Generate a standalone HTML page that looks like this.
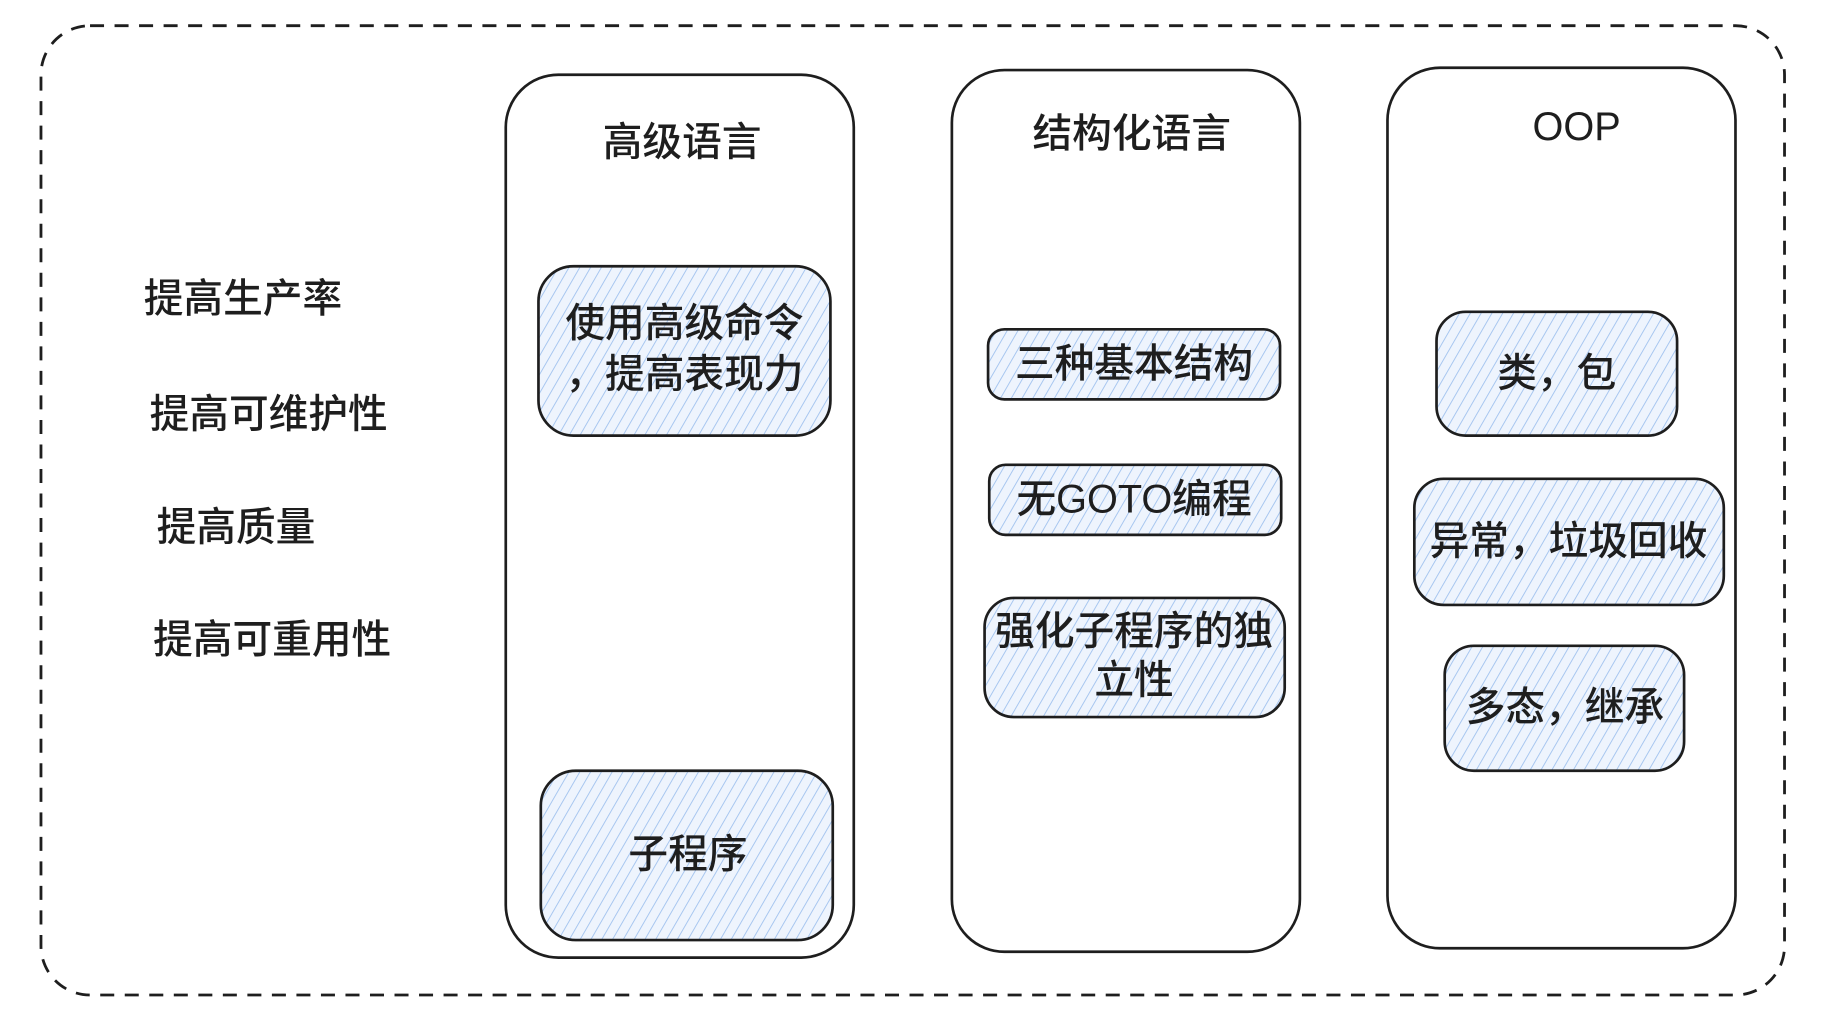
<!DOCTYPE html>
<html><head><meta charset="utf-8"><style>
html,body{margin:0;padding:0;background:#fff;width:1822px;height:1016px;overflow:hidden}
svg text{font-family:"Liberation Sans","Noto Sans CJK SC",sans-serif;fill:#1e1e1e;font-weight:500}
</style></head><body>
<svg width="1822" height="1016" viewBox="0 0 1560 870" xmlns="http://www.w3.org/2000/svg">
<defs>
<pattern id="h" width="8" height="8" patternUnits="userSpaceOnUse" patternTransform="rotate(30)">
<rect width="8" height="8" fill="#eef4fd"/>
<line x1="0" y1="0" x2="0" y2="8" stroke="#9fc1ee" stroke-width="1.5"/>
</pattern>
</defs>
<text x="650" y="-4" font-size="20" text-anchor="middle" style="fill:#c8c8c8">安装语言中，请按准确标准化成型语言进行规范或编辑，或使用新手工具。</text>
<rect x="35" y="22" width="1493" height="830" rx="42" fill="none" stroke="#1e1e1e" stroke-width="2.4" stroke-dasharray="12 9"/>
<g font-size="34">
<text x="123" y="267">提高生产率</text>
<text x="128" y="366">提高可维护性</text>
<text x="134" y="463">提高质量</text>
<text x="131" y="559">提高可重用性</text>
</g>
<g fill="none" stroke="#1e1e1e" stroke-width="2.3">
<rect x="433" y="64" width="298" height="756" rx="45"/>
<rect x="815" y="60" width="298" height="755" rx="45"/>
<rect x="1188" y="58" width="298" height="754" rx="45"/>
</g>
<g fill="url(#h)" stroke="#1e1e1e" stroke-width="2.3">
<rect x="461" y="228" width="250" height="145" rx="30"/>
<rect x="463" y="660" width="250" height="145" rx="30"/>
<rect x="846" y="282" width="250" height="60" rx="14"/>
<rect x="847" y="398" width="250" height="60" rx="14"/>
<rect x="843" y="512" width="257" height="102" rx="25"/>
<rect x="1230" y="267" width="206" height="106" rx="25"/>
<rect x="1211" y="410" width="265" height="108" rx="25"/>
<rect x="1237" y="553" width="205" height="107" rx="25"/>
</g>
<g font-size="34" text-anchor="middle">
<text x="584" y="133">高级语言</text>
<text x="969" y="126">结构化语言</text>
<text x="1350" y="120">OOP</text>
<text x="586" y="288">使用高级命令</text>
<text x="586" y="332">，提高表现力</text>
<text x="589" y="743">子程序</text>
<text x="971" y="323">三种基本结构</text>
<text x="971" y="439">无GOTO编程</text>
<text x="971" y="552">强化子程序的独</text>
<text x="971" y="594">立性</text>
<text x="1333" y="331">类，包</text>
<text x="1343" y="475">异常，垃圾回收</text>
<text x="1340" y="617">多态，继承</text>
</g>
</svg>
</body></html>
